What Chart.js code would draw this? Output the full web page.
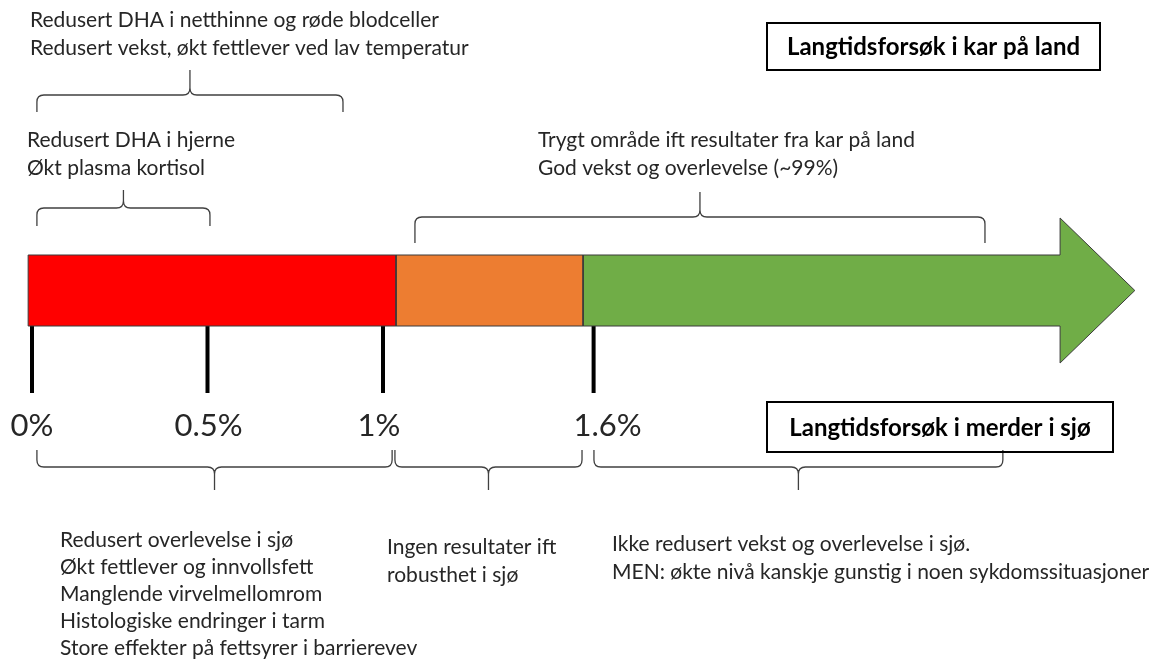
<!DOCTYPE html>
<html>
<head>
<meta charset="utf-8">
<script src="https://cdn.jsdelivr.net/npm/chart.js@4.4.1/dist/chart.umd.min.js"></script>
<style>
  html, body { margin: 0; padding: 0; background: #fff; }
  canvas { display: block; }
</style>
</head>
<body>
<canvas id="chart" width="1153" height="660"></canvas>
<script>
// zones on the % axis
let zoneStart = [-0.011, 1.037, 1.570];
let zoneEnd = [1.037, 1.570, 2.929];
let zoneColors = ['#ff0000', '#ed7d31', '#70ad47'];
let arrowTip = 3.142;

// tick marks under the bar
let tickValues = [0, 0.5, 1, 1.6];
let tickLabels = ['0%', '0.5%', '1%', '1.6%'];

// brackets: which % range each one spans
let braceFrom = [0.014, 0.014, 1.091, 0.014, 1.034, 1.601];
let braceTo = [0.886, 0.507, 2.715, 1.026, 1.567, 2.766];

// text blocks
let noteLines = [
    ['Redusert DHA i netthinne og røde blodceller', 'Redusert vekst, økt fettlever ved lav temperatur'],
    ['Redusert DHA i hjerne', 'Økt plasma kortisol'],
    ['Trygt område ift resultater fra kar på land', 'God vekst og overlevelse (~99%)'],
    ['Redusert overlevelse i sjø', 'Økt fettlever og innvollsfett', 'Manglende virvelmellomrom',
        'Histologiske endringer i tarm', 'Store effekter på fettsyrer i barrierevev'],
    ['Ingen resultater ift', 'robusthet i sjø'],
    ['Ikke redusert vekst og overlevelse i sjø.', 'MEN: økte nivå kanskje gunstig i noen sykdomssituasjoner']
];
let boxTitles = ['Langtidsforsøk i kar på land', 'Langtidsforsøk i merder i sjø'];

// ---- layout (pixels) ----
const BAR_TOP = 255, BAR_BOT = 326, HEAD_TOP = 218, HEAD_BOT = 363;
const TICK_BOT = 393, LABEL_Y = 426;
const labelShift = [0, 1, -4, 14];
const braceLayout = [
    {line: 95, end: 112, tip: 70},
    {line: 208, end: 226, tip: 190},
    {line: 217, end: 243, tip: 192},
    {line: 467, end: 450, tip: 490},
    {line: 467, end: 450, tip: 490},
    {line: 467, end: 450, tip: 490}
];
const noteLayout = [
    {x: 30, y: 20, gap: 28},
    {x: 27, y: 140, gap: 28},
    {x: 538, y: 140, gap: 28},
    {x: 60, y: 540, gap: 27},
    {x: 387, y: 547, gap: 28},
    {x: 612, y: 544, gap: 28}
];
const boxLayout = [
    {x: 767, y: 23, w: 333, h: 47},
    {x: 767, y: 402, w: 346, h: 50}
];
const FONT = 'Lato, "Open Sans", sans-serif';
const TEXT_COLOR = '#262626';

function zonePolygon(i) {
    let s = zoneStart[i], e = zoneEnd[i];
    let pts = [
        {x: s, y: BAR_TOP}, {x: e, y: BAR_TOP}
    ];
    if (i === zoneStart.length - 1) {
        let mid = (BAR_TOP + BAR_BOT) / 2;
        pts.push({x: e, y: HEAD_TOP}, {x: arrowTip, y: mid}, {x: e, y: HEAD_BOT});
    }
    pts.push({x: e, y: BAR_BOT}, {x: s, y: BAR_BOT}, {x: s, y: BAR_TOP});
    return pts;
}

let datasets = zoneColors.map((c, i) => ({
    data: zonePolygon(i),
    backgroundColor: c,
    borderColor: '#3b3b3b',
    borderWidth: 1,
    fill: 'shape',
    pointRadius: 0,
    tension: 0
}));

let tickData = [];
for (let v of tickValues) {
    tickData.push({x: v, y: BAR_BOT}, {x: v, y: TICK_BOT}, {x: v, y: null});
}
datasets.push({
    data: tickData,
    borderColor: '#000',
    borderWidth: 4,
    borderCapStyle: 'butt',
    pointRadius: 0,
    spanGaps: false,
    fill: false
});

function drawBrace(ctx, x0, x1, lay) {
    let xm = (x0 + x1) / 2;
    let r = 7;
    let dirEnd = Math.sign(lay.end - lay.line);
    let dirTip = Math.sign(lay.tip - lay.line);
    ctx.beginPath();
    ctx.moveTo(x0, lay.end);
    ctx.lineTo(x0, lay.line + dirEnd * r);
    ctx.quadraticCurveTo(x0, lay.line, x0 + r, lay.line);
    ctx.lineTo(xm - r, lay.line);
    ctx.quadraticCurveTo(xm, lay.line, xm, lay.line + dirTip * r);
    ctx.lineTo(xm, lay.tip);
    ctx.moveTo(xm, lay.line + dirTip * r);
    ctx.quadraticCurveTo(xm, lay.line, xm + r, lay.line);
    ctx.lineTo(x1 - r, lay.line);
    ctx.quadraticCurveTo(x1, lay.line, x1, lay.line + dirEnd * r);
    ctx.lineTo(x1, lay.end);
    ctx.stroke();
}

const annotations = {
    id: 'annotations',
    afterDraw(chart) {
        const ctx = chart.ctx;
        const xs = chart.scales.x;
        ctx.save();

        // brackets
        ctx.strokeStyle = '#404040';
        ctx.lineWidth = 1.3;
        braceFrom.forEach((f, i) => {
            drawBrace(ctx, xs.getPixelForValue(f), xs.getPixelForValue(braceTo[i]), braceLayout[i]);
        });

        // tick labels
        ctx.fillStyle = TEXT_COLOR;
        ctx.textAlign = 'center';
        ctx.textBaseline = 'middle';
        ctx.font = '31px ' + FONT;
        tickValues.forEach((v, i) => {
            ctx.fillText(tickLabels[i], xs.getPixelForValue(v) + labelShift[i], LABEL_Y);
        });

        // notes
        ctx.textAlign = 'left';
        ctx.font = '21px ' + FONT;
        noteLines.forEach((lines, i) => {
            let lay = noteLayout[i];
            lines.forEach((t, j) => ctx.fillText(t, lay.x, lay.y + j * lay.gap));
        });

        // boxes
        ctx.strokeStyle = '#000';
        ctx.lineWidth = 2;
        ctx.textAlign = 'center';
        ctx.font = 'bold 24px ' + FONT;
        ctx.fillStyle = '#000';
        boxTitles.forEach((t, i) => {
            let b = boxLayout[i];
            ctx.strokeRect(b.x, b.y, b.w, b.h);
            ctx.fillText(t, b.x + b.w / 2, b.y + b.h / 2 + 1);
        });
        ctx.restore();
    }
};

const PX_PER_UNIT = 351, ZERO_PX = 32;
const chart = new Chart(document.getElementById('chart').getContext('2d'), {
    type: 'line',
    data: {datasets: datasets},
    options: {
        responsive: false,
        animation: false,
        layout: {padding: 0},
        plugins: {legend: {display: false}, tooltip: {enabled: false}},
        scales: {
            x: {type: 'linear', display: false, min: -ZERO_PX / PX_PER_UNIT, max: (1153 - ZERO_PX) / PX_PER_UNIT},
            y: {type: 'linear', display: false, min: 0, max: 660, reverse: true}
        }
    },
    plugins: [annotations]
});
</script>
</body>
</html>
